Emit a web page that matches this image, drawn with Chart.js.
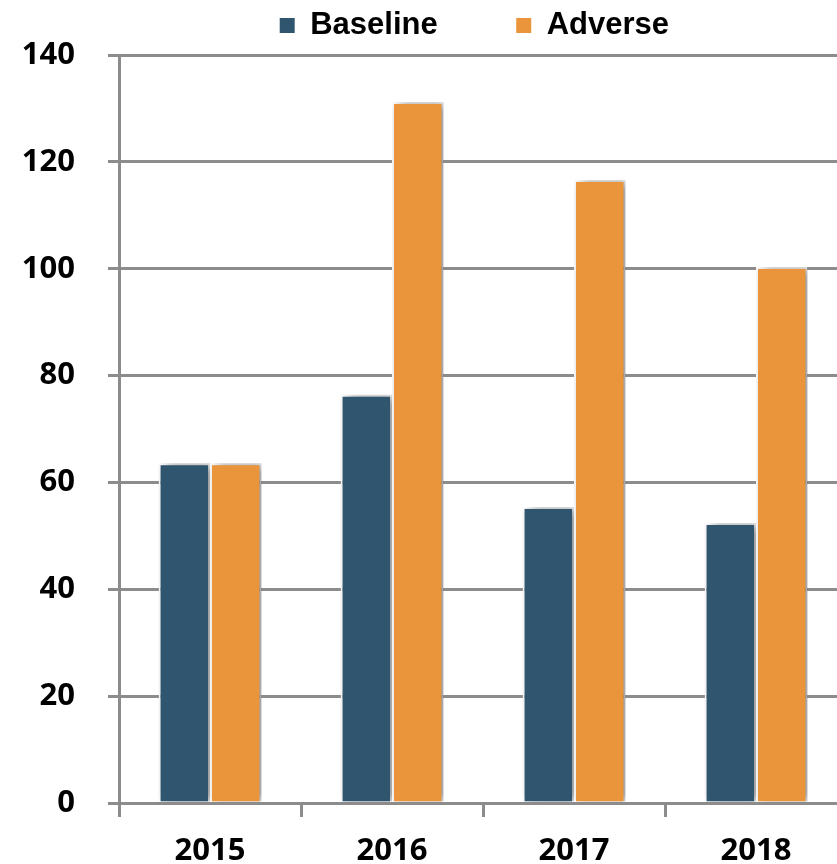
<!DOCTYPE html>
<html>
<head>
<meta charset="utf-8">
<script src="https://cdn.jsdelivr.net/npm/chart.js@4.4.1/dist/chart.umd.min.js"></script>
<style>
  html, body { margin: 0; padding: 0; background: #fff; overflow: hidden; }
  #wrap { position: absolute; left: 0; top: 0; width: 850px; height: 864px; }
</style>
</head>
<body>
<div id="wrap"><canvas id="stressChart"></canvas></div>
<script>
const years = ["2015", "2016", "2017", "2018"];
const seriesNames = ["Baseline", "Adverse"];
const baseline = [63.6, 76.4, 55.4, 52.4];
const adverse = [63.6, 131.2, 116.6, 100.3];
const yTicks = [0, 20, 40, 60, 80, 100, 120, 140];

const gridGray = "#8c8c8c";
const tickFont = { family: "'Open Sans', sans-serif", size: 31, weight: "bold" };

// soft drop shadow to the right of each bar
const barShadow = {
  id: "barShadow",
  afterInit(chart) {
    // give the legend some extra room below its row
    const legend = chart.legend;
    if (legend) {
      const fit = legend.fit;
      legend.fit = function () {
        fit.call(this);
        this.height += 4;
      };
    }
  },
  beforeDatasetsDraw(chart) {
    const ctx = chart.ctx;
    ctx.save();
    ctx.shadowColor = "rgba(0, 0, 0, 0.45)";
    ctx.shadowBlur = 10;
    ctx.shadowOffsetX = 5;
    ctx.shadowOffsetY = 0;
  },
  afterDatasetsDraw(chart) {
    chart.ctx.restore();
  },
};

const ctx = document.getElementById("stressChart").getContext("2d");

new Chart(ctx, {
  type: "bar",
  data: {
    labels: years,
    datasets: [
      {
        label: seriesNames[0],
        data: baseline,
        backgroundColor: "#30566f",
        borderColor: "#ffffff",
        borderWidth: 2,
      },
      {
        label: seriesNames[1],
        data: adverse,
        backgroundColor: "#ea943b",
        borderColor: "#ffffff",
        borderWidth: 2,
      },
    ],
  },
  options: {
    responsive: true,
    maintainAspectRatio: false,
    animation: false,
    categoryPercentage: 0.565,
    barPercentage: 1.0,
    layout: {
      padding: { top: 0, right: 3, bottom: 0, left: 0 },
    },
    plugins: {
      tooltip: { enabled: false },
      legend: {
        position: "top",
        fullSize: false,
        labels: {
          color: "#000",
          boxWidth: 15,
          boxHeight: 15,
          padding: 1,
          font: { family: "'Liberation Sans', Arial, sans-serif", size: 31, weight: "bold" },
          generateLabels(chart) {
            const items = Chart.defaults.plugins.legend.labels.generateLabels(chart);
            // widen the gap between the two entries
            items[0].text = items[0].text + "         ";
            items[1].text = items[1].text + "  ";
            items.forEach((it) => { it.lineWidth = 0; });
            return items;
          },
        },
      },
    },
    scales: {
      x: {
        afterFit(scale) { scale.height = 61; },
        grid: {
          drawOnChartArea: false,
          drawTicks: true,
          tickLength: 14,
          color: gridGray,
          lineWidth: 3,
        },
        border: { display: true, color: gridGray, width: 3 },
        ticks: {
          color: "#000",
          padding: 16,
          font: tickFont,
        },
      },
      y: {
        min: 0,
        max: 140,
        afterBuildTicks(scale) {
          scale.ticks = yTicks.map((v) => ({ value: v }));
        },
        afterFit(scale) {
          scale.width = 119;
          scale.paddingTop = 55;
        },
        grid: {
          color: gridGray,
          lineWidth: 3,
          drawTicks: true,
          tickLength: 11,
        },
        border: { display: true, color: gridGray, width: 3 },
        ticks: {
          color: "#000",
          padding: 33,
          font: tickFont,
        },
      },
    },
  },
  plugins: [barShadow],
});
</script>
</body>
</html>
